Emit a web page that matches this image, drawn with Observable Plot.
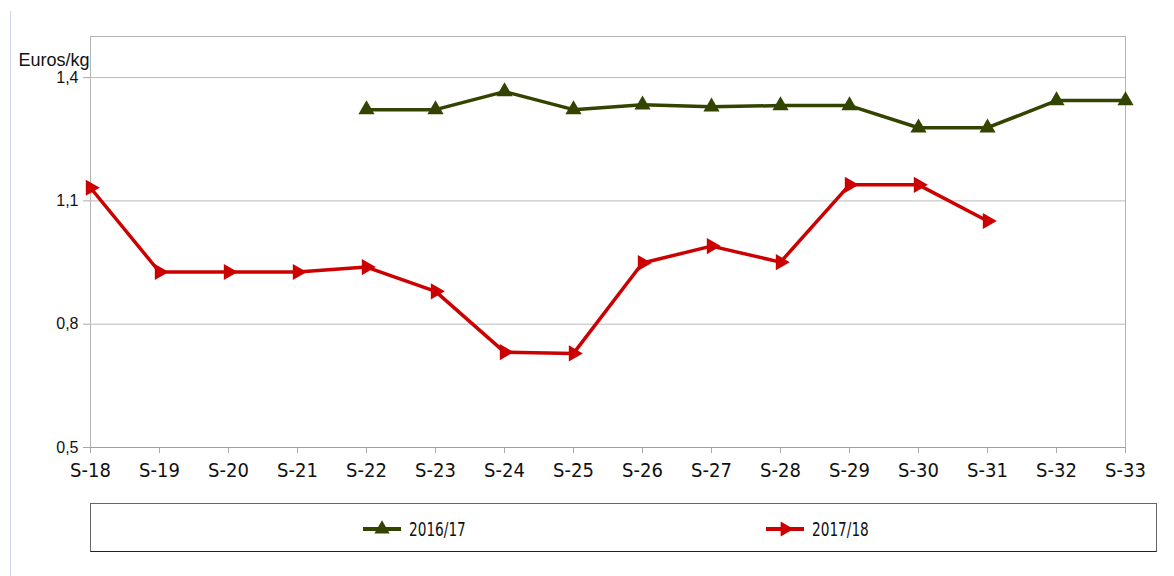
<!DOCTYPE html>
<html>
<head>
<meta charset="utf-8">
<script src="https://cdn.jsdelivr.net/npm/d3@7"></script>
<script src="https://cdn.jsdelivr.net/npm/@observablehq/plot@0.6"></script>
<style>
  body { margin: 0; background: #fff; font-family: "Liberation Sans", Arial, sans-serif; }
  #wrap { position: relative; width: 1174px; height: 576px; }
  #edge { position: absolute; left: 10px; top: 11px; width: 0; height: 565px; border-left: 1px solid #c9d7e6; }
  #chart { position: absolute; left: 0; top: 0; }
  #chart svg text { fill: #111; }
  #chart svg g[aria-label="x-axis tick label"] text { font-family: "Liberation Sans Narrow", "DejaVu Sans Condensed", sans-serif; font-size: 20px; }
  #chart svg g[aria-label="y-axis tick label"] text { font-size: 16px; }
  #legend { position: absolute; left: 90px; top: 503px; width: 1067px; height: 49px; border: 1px solid #666; border-bottom-color: #222; box-sizing: border-box; background: #fff; }
  .item { position: absolute; top: 14px; display: flex; align-items: center; font-family: "Liberation Sans Narrow", "DejaVu Sans Condensed", "Liberation Sans", sans-serif; font-size: 19px; color: #111; }
  .item svg { margin-right: 6px; }
  .item span { display: inline-block; transform: scaleX(0.8); transform-origin: left center; }
</style>
</head>
<body>
<div id="wrap">
  <div id="edge"></div>
  <div id="chart"></div>
  <div id="legend"></div>
</div>
<script>
const weeks = ["S-18","S-19","S-20","S-21","S-22","S-23","S-24","S-25","S-26","S-27","S-28","S-29","S-30","S-31","S-32","S-33"];
const series = ["2016/17", "2017/18"];
const values2016 = [null, null, null, null, 1.322, 1.322, 1.366, 1.322, 1.334, 1.329, 1.332, 1.332, 1.278, 1.278, 1.344, 1.344];
const values2017 = [1.132, 0.927, 0.927, 0.927, 0.939, 0.880, 0.732, 0.729, 0.949, 0.990, 0.951, 1.139, 1.139, 1.051, null, null];
const yTicks = [0.5, 0.8, 1.1, 1.4];
const colors = ["#334400", "#cc0000"];

const rows = [];
weeks.forEach((w, i) => {
  rows.push({week: w, series: series[0], value: values2016[i]});
  rows.push({week: w, series: series[1], value: values2017[i]});
});
const s16 = rows.filter(d => d.series === series[0]);
const s17 = rows.filter(d => d.series === series[1]);
const fmt = d => d.toFixed(1).replace(".", ",");

const chart = Plot.plot({
  width: 1174,
  height: 500,
  marginLeft: 90,
  marginRight: 49,
  marginTop: 36,
  marginBottom: 53,
  style: {fontFamily: "Liberation Sans, Arial, sans-serif", fontSize: "16px", color: "#111", background: "transparent"},
  x: {type: "point", domain: weeks, padding: 0, label: null},
  y: {domain: [0.5, 1.5], ticks: yTicks, tickFormat: fmt, label: null},
  marks: [
    Plot.frame({stroke: "#b3b3b3"}),
    Plot.gridY(yTicks.slice(1), {stroke: "#bbbbbb", strokeOpacity: 1}),
    Plot.axisX({tickSize: 6, tickPadding: 9, stroke: "#aaa"}),
    Plot.axisY({ticks: yTicks, tickFormat: fmt, tickSize: 7, tickPadding: 5, stroke: "#aaa"}),
    Plot.ruleY([0.5], {stroke: "#a0a0a0"}),
    Plot.line(s16, {x: "week", y: "value", stroke: colors[0], strokeWidth: 3.5}),
    Plot.line(s17, {x: "week", y: "value", stroke: colors[1], strokeWidth: 3.5}),
    Plot.dot(s16.filter(d => d.value != null), {x: "week", y: "value", symbol: "triangle", r: 6, fill: colors[0], stroke: null}),
    Plot.dot(s17.filter(d => d.value != null), {x: "week", y: "value", symbol: "triangle", r: 6, rotate: 90, fill: colors[1], stroke: null}),
    Plot.text(["Euros/kg"], {frameAnchor: "top-left", dx: -72, dy: 17, textAnchor: "start", fontSize: 18, fill: "#111"})
  ]
});
document.getElementById("chart").appendChild(chart);

const legend = document.getElementById("legend");
const lefts = [272, 675];
series.forEach((name, i) => {
  const item = document.createElement("div");
  item.className = "item";
  item.style.left = lefts[i] + "px";
  item.innerHTML = `<svg width="40" height="20"><line x1="0" y1="10" x2="38" y2="10" stroke="${colors[i]}" stroke-width="4"/><path d="${d3.symbol(d3.symbolTriangle, 100)()}" transform="translate(19,10)${i === 0 ? "" : " rotate(90)"}" fill="${colors[i]}"/></svg><span>${name}</span>`;
  legend.appendChild(item);
});
</script>
</body>
</html>
